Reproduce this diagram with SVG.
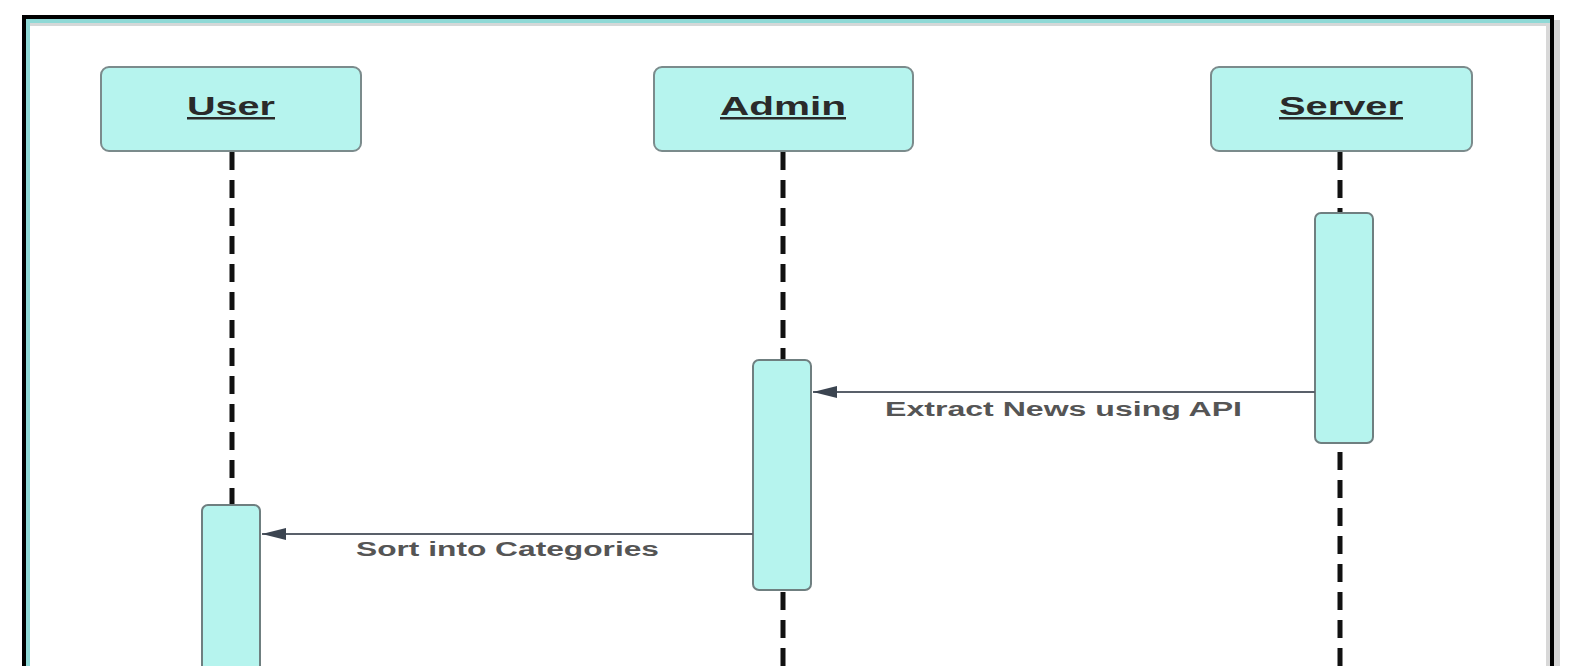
<svg xmlns="http://www.w3.org/2000/svg" width="1575" height="666" viewBox="0 0 1575 666">
<defs>
<style>
.actor{fill:#b6f4ee;stroke:#7b8b8c;stroke-width:2}
.act{fill:#b6f4ee;stroke:#6f7f80;stroke-width:2}
.title{font-family:"Liberation Sans",Arial,sans-serif;font-weight:bold;font-size:25px;fill:#2a2a2a;text-decoration:underline}
.lbl{font-family:"Liberation Sans",Arial,sans-serif;font-weight:bold;font-size:20px;fill:#555}
.life{stroke:#111;stroke-width:5;stroke-dasharray:18 10;fill:none}
.msg{stroke:#59606a;stroke-width:2.2;fill:none}
</style>
<marker id="ah" viewBox="0 0 24 12" refX="24" refY="6" markerWidth="24" markerHeight="12" markerUnits="userSpaceOnUse" orient="auto">
<path d="M24,6 L0,0 L0,12 Z" fill="#3b4450"/>
</marker>
</defs>
<rect x="0" y="0" width="1575" height="666" fill="#ffffff"/>
<g id="frame">
<rect x="1554" y="20" width="6" height="646" fill="#d4d4d4"/>
<rect x="24" y="17" width="1528" height="660" fill="none" stroke="#000" stroke-width="4"/>
<rect x="26" y="19" width="1524" height="4" fill="#8fd9d6"/>
<rect x="26" y="19" width="4" height="647" fill="#8fd9d6"/>
<rect x="30" y="23" width="1519" height="3" fill="#d4d8d8"/>
<rect x="1546" y="23" width="4" height="643" fill="#d8d8d8"/>
</g>
<g id="lifelines">
<line class="life" x1="232" y1="152" x2="232" y2="505"/>
<line class="life" x1="783" y1="152" x2="783" y2="360"/>
<line class="life" x1="783" y1="592" x2="783" y2="666"/>
<line class="life" x1="1340" y1="152" x2="1340" y2="213"/>
<line class="life" x1="1340" y1="452" x2="1340" y2="666"/>
</g>
<g id="User">
<rect class="actor" x="101" y="67" width="260" height="84" rx="8"/>
<text class="title" x="231" y="115" text-anchor="middle" textLength="88" lengthAdjust="spacingAndGlyphs">User</text>
</g>
<g id="Admin">
<rect class="actor" x="654" y="67" width="259" height="84" rx="8"/>
<text class="title" x="783" y="115" text-anchor="middle" textLength="126" lengthAdjust="spacingAndGlyphs">Admin</text>
</g>
<g id="Server">
<rect class="actor" x="1211" y="67" width="261" height="84" rx="8"/>
<text class="title" x="1341" y="115" text-anchor="middle" textLength="124" lengthAdjust="spacingAndGlyphs">Server</text>
</g>
<g id="ServerActivation">
<rect class="act" x="1315" y="213" width="58" height="230" rx="6"/>
</g>
<g id="AdminActivation">
<rect class="act" x="753" y="360" width="58" height="230" rx="6"/>
</g>
<g id="UserActivation">
<rect class="act" x="202" y="505" width="58" height="180" rx="6"/>
</g>
<g id="connectors">
<line class="msg" x1="1315" y1="392" x2="813" y2="392" marker-end="url(#ah)"/>
<text class="lbl" x="885" y="416" textLength="357" lengthAdjust="spacingAndGlyphs">Extract News using API</text>
<line class="msg" x1="753" y1="534" x2="262" y2="534" marker-end="url(#ah)"/>
<text class="lbl" x="356" y="556" textLength="303" lengthAdjust="spacingAndGlyphs">Sort into Categories</text>
</g>
</svg>
